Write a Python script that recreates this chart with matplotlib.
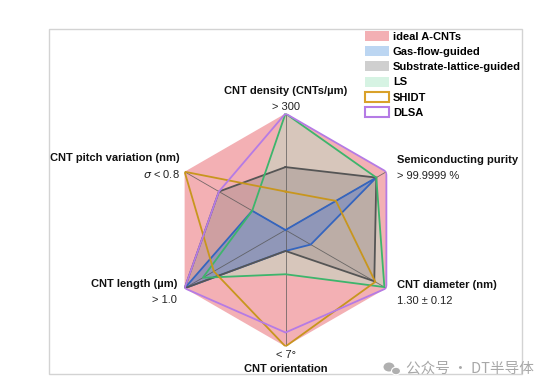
import numpy as np
import matplotlib
matplotlib.use("Agg")
import matplotlib.pyplot as plt
from matplotlib.patches import Patch, Rectangle, Ellipse

plt.rcParams['font.family'] = ['Liberation Sans', 'DejaVu Sans']

# ---- data ----
axis_names = ["CNT density (CNTs/µm)", "Semiconducting purity", "CNT diameter (nm)",
              "CNT orientation", "CNT length (µm)", "CNT pitch variation (nm)"]
axis_values = ["> 300", "> 99.9999 %", "1.30 ± 0.12", "< 7°", "> 1.0", r"$\sigma$ < 0.8"]

series_names = ["ideal A-CNTs", "Gas-flow-guided", "Substrate-lattice-guided", "LS", "SHIDT", "DLSA"]
ideal = [1.0, 1.0, 1.0, 1.0, 1.0, 1.0]
gas_flow = [0.0, 0.90, 0.25, 0.18, 1.0, 0.33]
substrate = [0.54, 0.90, 0.88, 0.18, 1.0, 0.66]
ls = [1.0, 0.90, 0.98, 0.38, 0.82, 0.33]
shidt = [0.33, 0.50, 0.89, 1.0, 0.71, 1.0]
dlsa = [1.0, 1.0, 1.0, 0.88, 1.0, 0.66]

W, H = 554, 390
fig = plt.figure(figsize=(W / 100, H / 100), dpi=100)

cx, cy, R = 285.5, 230.0, 116.5
ax = fig.add_axes([(cx - R) / W, (H - cy - R) / H, 2 * R / W, 2 * R / H], projection='polar')
ax.set_theta_offset(np.pi / 2)
ax.set_theta_direction(-1)
ax.set_ylim(0, 1)
ax.grid(False)
ax.set_xticks([])
ax.set_yticks([])
ax.spines['polar'].set_visible(False)
ax.patch.set_alpha(0)

n = len(axis_names)
theta = np.arange(n) * 2 * np.pi / n


def closed(v):
    v = np.asarray(v, float)
    return np.append(theta, theta[0]), np.append(v, v[0])


# fills
t, r = closed(ideal)
ax.fill(t, r, facecolor='#F3B0B4', edgecolor='none', zorder=1)
t, r = closed(ls)
ax.fill(t, r, facecolor='#B5E3C4', alpha=0.45, edgecolor='none', zorder=2)
t, r = closed(substrate)
ax.fill(t, r, facecolor='#8A8080', alpha=0.35, edgecolor='none', zorder=3)
t, r = closed(gas_flow)
ax.fill(t, r, facecolor='#6C86C8', alpha=0.55, edgecolor='none', zorder=4)

# spokes
for th in theta:
    ax.plot([th, th], [0, 1], color='#555555', lw=0.6, alpha=0.8, zorder=5)

# lines
line_styles = [
    (gas_flow, '#3565BE'),
    (substrate, '#555555'),
    (ls, '#3DB56C'),
    (shidt, '#C8961E'),
    (dlsa, '#B57BE5'),
]
for vals, col in line_styles:
    t, r = closed(vals)
    ax.plot(t, r, color=col, lw=1.3, zorder=6, solid_joinstyle='miter')

# axis labels
label_specs = [
    # (dx_name, dy_name, dx_val, dy_val, ha)
    (0, 22, 0, 7, 'center'),
    (11, 12, 11, -4, 'left'),
    (11, 3, 11, -13, 'left'),
    (0, -22, 0, -8, 'center'),
    (-7, 4, -8, -12, 'right'),
    (-5, 14, -5, -2, 'right'),
]
for i, (dxn, dyn, dxv, dyv, ha) in enumerate(label_specs):
    ax.annotate(axis_names[i], xy=(theta[i], 1.0), xytext=(dxn, dyn), textcoords='offset pixels',
                ha=ha, va='center', fontsize=8, fontweight='bold', color='#111111',
                annotation_clip=False)
    ax.annotate(axis_values[i], xy=(theta[i], 1.0), xytext=(dxv, dyv), textcoords='offset pixels',
                ha=ha, va='center', fontsize=8, color='#222222', annotation_clip=False)

# legend
handles = [
    Patch(facecolor='#F3B0B4', edgecolor='none'),
    Patch(facecolor='#BCD6F2', edgecolor='none'),
    Patch(facecolor='#CFCFCF', edgecolor='none'),
    Patch(facecolor='#D6F3E3', edgecolor='none'),
    Patch(facecolor='white', edgecolor='#D9A12A', lw=1.5),
    Patch(facecolor='white', edgecolor='#B57BE5', lw=1.5),
]
leg = fig.legend(handles, series_names, loc='upper left',
                 bbox_to_anchor=(365 / W, 1 - 31 / H), bbox_transform=fig.transFigure,
                 frameon=False, borderpad=0, borderaxespad=0,
                 handlelength=2.15, handleheight=1.0, handletextpad=0.35,
                 labelspacing=0.4, prop={'weight': 'bold', 'size': 8})

# frame around the figure content
fig.add_artist(Rectangle((49 / W, 1 - 374 / H), (522 - 49) / W, (374 - 29) / H,
                         fill=False, edgecolor='#D3D3D3', lw=1.0, transform=fig.transFigure))

# watermark
fig.add_artist(Ellipse((389 / W, 1 - 367 / H), 11 / W, 9 / H, transform=fig.transFigure,
                       facecolor='#B0B0B0', edgecolor='none'))
fig.add_artist(Ellipse((396 / W, 1 - 371 / H), 9 / W, 7.5 / H, transform=fig.transFigure,
                       facecolor='#B0B0B0', edgecolor='white', lw=0.8))
fig.text(406 / W, 1 - 369 / H, '公众号 · DT半导体', fontfamily=['Noto Sans CJK SC', 'DejaVu Sans'],
         color='#A8A8A8', fontsize=10.5, va='center', ha='left')

fig.savefig('out.png', dpi=100)
